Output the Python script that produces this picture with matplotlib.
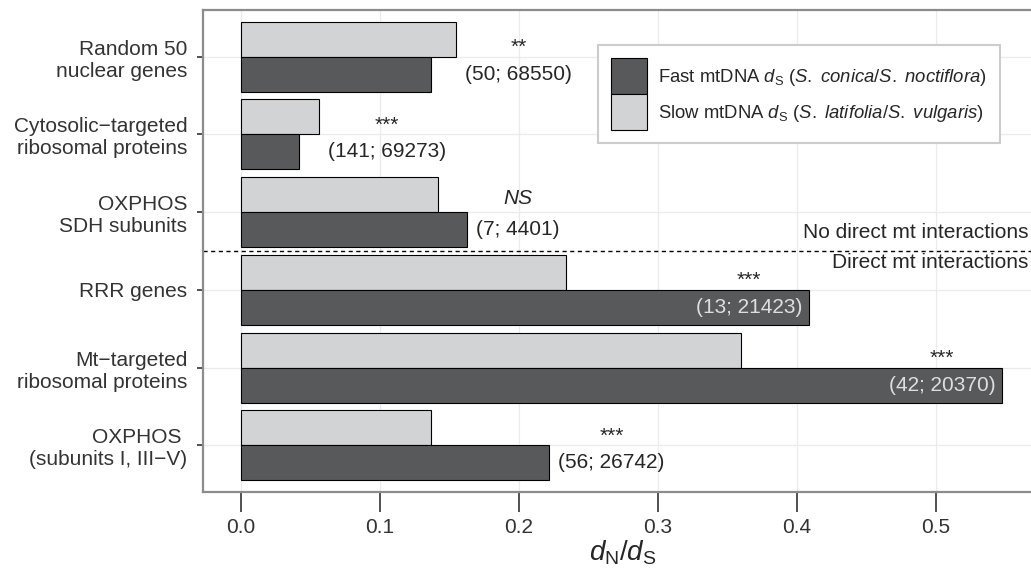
import matplotlib

matplotlib.use("Agg")
import matplotlib.pyplot as plt
import numpy as np

# dN/dS per gene class (top -> bottom)
categories = [
    "Random 50\nnuclear genes",
    "Cytosolic\u2212targeted\nribosomal proteins",
    "OXPHOS\nSDH subunits",
    "RRR genes",
    "Mt\u2212targeted\nribosomal proteins",
    "OXPHOS \n(subunits I, III\u2212V)",
]
fast_ds = [0.137, 0.042, 0.163, 0.409, 0.548, 0.222]
slow_ds = [0.155, 0.056, 0.142, 0.234, 0.360, 0.137]
n_genes = [50, 141, 7, 13, 42, 56]
n_codons = [68550, 69273, 4401, 21423, 20370, 26742]
signif = ["**", "***", "NS", "***", "***", "***"]
x_ticks = [0.0, 0.1, 0.2, 0.3, 0.4, 0.5]

plt.rcParams["font.family"] = ["Liberation Sans", "DejaVu Sans"]
plt.rcParams["mathtext.fontset"] = "custom"
plt.rcParams["mathtext.rm"] = "Liberation Sans"
plt.rcParams["mathtext.it"] = "Liberation Sans:italic"
plt.rcParams["mathtext.bf"] = "Liberation Sans:bold"

DARK = "#58595b"
LIGHT = "#d1d3d4"
TXT = "#262626"
FS = 15

lab_fast = r"Fast mtDNA $d_\mathrm{S}$ ($S.\ conica$/$S.\ noctiflora$)"
lab_slow = r"Slow mtDNA $d_\mathrm{S}$ ($S.\ latifolia$/$S.\ vulgaris$)"

fig = plt.figure(figsize=(10.31, 5.69), dpi=100)
# panel runs a little past the right edge of the canvas, like the original
ax = fig.add_axes([203 / 1031, 77 / 569, 839 / 1031, 482 / 569])

y = np.arange(len(categories))
h = 0.45
b_slow = ax.barh(y - h / 2, slow_ds, height=h, color=LIGHT, edgecolor="black", lw=0.8, zorder=3)
b_fast = ax.barh(y + h / 2, fast_ds, height=h, color=DARK, edgecolor="black", lw=0.8, zorder=3)

# sample sizes + significance stars
for i in range(len(categories)):
    txt = f"({n_genes[i]}; {n_codons[i]})"
    if fast_ds[i] > 0.3:
        lab = ax.text(fast_ds[i] - 0.005, i + h / 2, txt, ha="right", va="center",
                      fontsize=FS, color="#dedede", zorder=4)
    else:
        lab = ax.text(max(fast_ds[i], slow_ds[i]) + 0.0065, i + h / 2, txt, ha="left",
                      va="center", fontsize=FS, color=TXT, zorder=4)
    is_ns = signif[i] == "NS"
    ax.annotate(signif[i], xy=(0.5, i - (0.10 if is_ns else 0.05)), xycoords=(lab, "data"),
                ha="center", va="baseline", fontsize=FS, color=TXT,
                style="italic" if is_ns else "normal", zorder=4)

# divider between the two gene groups
ax.axhline(2.5, color="black", lw=1.0, ls=(0, (3, 2.5)), zorder=2)
ax.text(0.567, 2.327, "No direct mt interactions", ha="right", va="baseline", fontsize=FS, color=TXT)
ax.text(0.567, 2.725, "Direct mt interactions", ha="right", va="baseline", fontsize=FS, color=TXT)

ax.set_xlim(-0.0273, 0.5765)
ax.set_ylim(len(categories) - 0.4, -0.6)
ax.set_xticks(x_ticks)
ax.set_xticklabels([f"{v:.1f}" for v in x_ticks])
ax.set_yticks(y)
ax.set_yticklabels(categories)
ax.set_axisbelow(True)
ax.grid(True, color="#ebebeb", lw=0.9, zorder=0)
for s in ax.spines.values():
    s.set_color("#8c8c8c")
    s.set_linewidth(1.6)
ax.tick_params(axis="x", length=14.5, width=1.2, color="#333333", pad=4, labelsize=FS, labelcolor="#333333")
ax.tick_params(axis="y", length=4.3, width=1.2, color="#333333", pad=7, labelsize=FS, labelcolor="#333333")
ax.set_xlabel(r"$d_\mathrm{N}/d_\mathrm{S}$", fontsize=20, labelpad=1, color=TXT)

leg = ax.legend([b_fast, b_slow], [lab_fast, lab_slow], loc="upper left",
                bbox_to_anchor=(0.4708, 0.927), borderaxespad=0, fontsize=13.3,
                handlelength=1.95, handleheight=2.62, labelspacing=0, handletextpad=0.6,
                borderpad=0.7, fancybox=False, edgecolor="#cccccc", framealpha=1)
leg.get_frame().set_linewidth(1.5)
for t in leg.get_texts():
    t.set_color(TXT)

fig.savefig("out.png", dpi=100)
